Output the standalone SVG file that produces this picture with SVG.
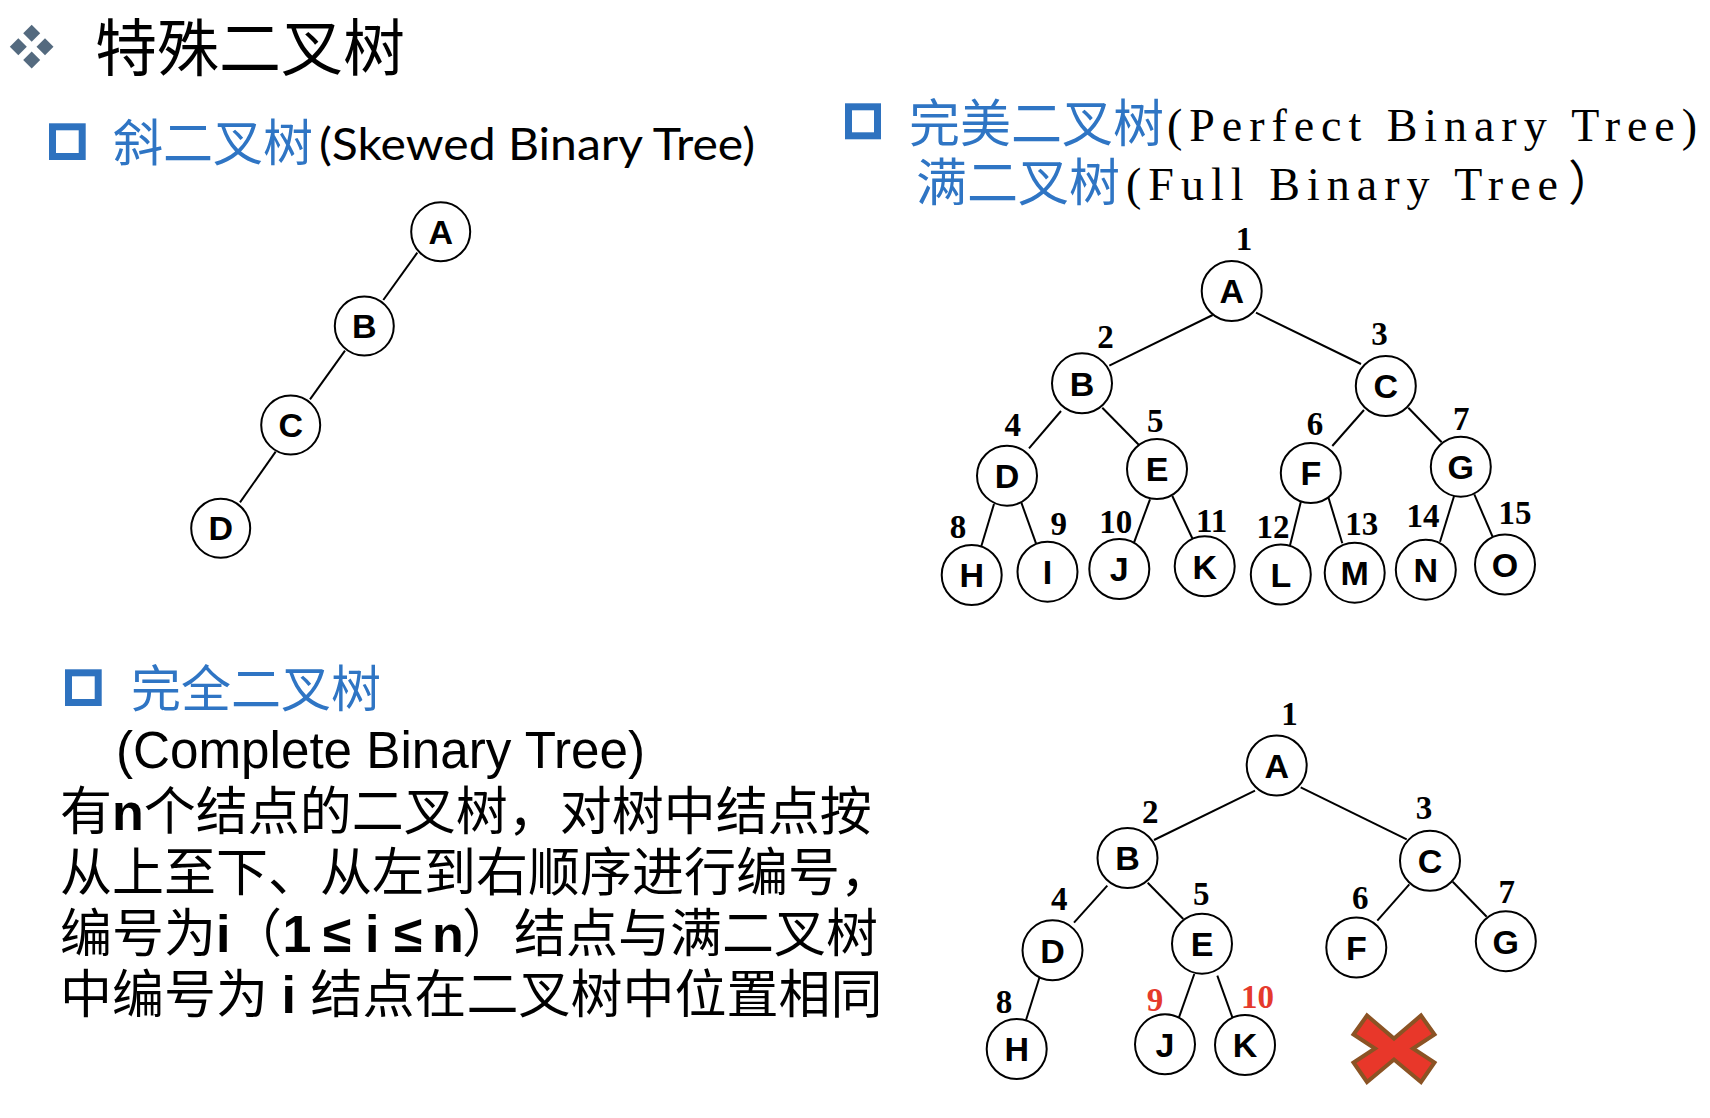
<svg xmlns="http://www.w3.org/2000/svg" width="1710" height="1118" viewBox="0 0 1710 1118">
<style>
.cjk{font-family:"Noto Sans CJK SC","Noto Sans",sans-serif}
.blue{fill:#2f75c4}
.node circle{fill:#fff;stroke:#000;stroke-width:2}
.node text{font-family:"Liberation Sans",Arial,sans-serif;font-weight:bold;font-size:34px;text-anchor:middle}
.num{font-family:"Liberation Serif","Times New Roman",serif;font-weight:bold;font-size:33px;text-anchor:middle}
.red{fill:#e53a2c}
.edges line{stroke:#000;stroke-width:2}
.bullet{fill:none;stroke:#2e72bf;stroke-width:7}
.b{font-family:"Liberation Sans",Arial,sans-serif;font-weight:bold}
</style>
<rect width="1710" height="1118" fill="#fff"/>

<!-- title -->
<g id="title">
<g fill="#546a7f">
<polygon points="31.7,24.8 40.2,33.3 31.7,41.8 23.2,33.3"/>
<polygon points="18.3,38.2 26.8,46.7 18.3,55.2 9.8,46.7"/>
<polygon points="45,38.2 53.5,46.7 45,55.2 36.5,46.7"/>
<polygon points="31.7,51.5 40.2,60 31.7,68.5 23.2,60"/>
</g>
<text class="cjk" x="95" y="71" font-size="62">特殊二叉树</text>
</g>

<!-- headers -->
<g id="header-skewed">
<rect class="bullet" x="52.5" y="126.8" width="29.7" height="29.7"/>
<text class="cjk blue" x="113" y="161" font-size="50">斜二叉树</text>
<text x="319" y="160" font-family="Lato,'Open Sans',sans-serif" font-size="44" textLength="436" lengthAdjust="spacingAndGlyphs">(Skewed Binary Tree)</text>
</g>
<g id="header-perfect">
<rect class="bullet" x="848.5" y="106.8" width="29" height="29"/>
<text class="cjk blue" x="909" y="142" font-size="51">完美二叉树</text>
<text x="1167" y="141" font-family="'Liberation Serif',serif" font-size="46" textLength="530" lengthAdjust="spacing">(Perfect Binary Tree)</text>
<text class="cjk blue" x="916" y="201" font-size="51">满二叉树</text>
<text x="1126" y="200" font-family="'Liberation Serif',serif" font-size="46" textLength="432" lengthAdjust="spacing">(Full Binary Tree</text>
<text class="cjk" x="1568" y="200" font-size="48">）</text>
</g>
<g id="header-complete">
<rect class="bullet" x="68.5" y="672.8" width="29.7" height="29.7"/>
<text class="cjk blue" x="131" y="707" font-size="50">完全二叉树</text>
<text x="116" y="767.7" font-family="'Liberation Sans',Arial,sans-serif" font-size="51" textLength="529" lengthAdjust="spacingAndGlyphs">(Complete Binary Tree)</text>
</g>

<!-- body text -->
<g id="body" font-size="52">
<text class="cjk" x="60" y="830">有<tspan class="b">n</tspan>个结点的二叉树，对树中结点按</text>
<text class="cjk" x="60" y="891">从上至下、从左到右顺序进行编号，</text>
<text y="952">
<tspan class="cjk" x="60">编号为</tspan><tspan class="b" x="216">i</tspan><tspan class="cjk" x="230">（</tspan><tspan class="b" x="282.5">1</tspan><tspan class="b" x="323">≤</tspan><tspan class="b" x="365">i</tspan><tspan class="b" x="394">≤</tspan><tspan class="b" x="432">n</tspan><tspan class="cjk" x="462">）结点与满二叉树</tspan>
</text>
<text y="1013">
<tspan class="cjk" x="60">中编号为</tspan><tspan class="b" x="281.5">i</tspan><tspan class="cjk" x="310.5">结点在二叉树中位置相同</tspan>
</text>
</g>

<!-- connectors -->
<g class="edges" id="connectors">
<line x1="417.3" y1="252.7" x2="383.3" y2="300"/>
<line x1="345" y1="350.7" x2="310" y2="399.3"/>
<line x1="275.7" y1="451.7" x2="240" y2="502.3"/>

<line x1="1212.7" y1="315" x2="1109.3" y2="365.7"/>
<line x1="1256" y1="312.7" x2="1361" y2="364"/>
<line x1="1061" y1="411" x2="1029" y2="448.3"/>
<line x1="1102.3" y1="407.7" x2="1139" y2="445"/>
<line x1="1364" y1="410" x2="1332.3" y2="446"/>
<line x1="1408.3" y1="407.7" x2="1441.7" y2="442.3"/>
<line x1="994" y1="504" x2="980.7" y2="548.3"/>
<line x1="1021" y1="501.7" x2="1036" y2="543.3"/>
<line x1="1150" y1="499.3" x2="1134" y2="542.7"/>
<line x1="1172.3" y1="496" x2="1192.3" y2="538.3"/>
<line x1="1303.3" y1="491.7" x2="1289.3" y2="548.3"/>
<line x1="1326.7" y1="491.7" x2="1342.3" y2="543.3"/>
<line x1="1455.7" y1="490.7" x2="1440" y2="541.7"/>
<line x1="1474.3" y1="494.3" x2="1493.3" y2="538.3"/>

<line x1="1255" y1="790.7" x2="1154" y2="840"/>
<line x1="1300.7" y1="787.3" x2="1406.7" y2="839.3"/>
<line x1="1107.3" y1="885.7" x2="1074" y2="922.7"/>
<line x1="1147.7" y1="882.7" x2="1183.3" y2="919"/>
<line x1="1409.3" y1="884.3" x2="1377.3" y2="920.7"/>
<line x1="1452.7" y1="881.7" x2="1486.7" y2="916.7"/>
<line x1="1040" y1="975.7" x2="1025" y2="1023.3"/>
<line x1="1194.3" y1="974" x2="1179" y2="1017.3"/>
<line x1="1217.3" y1="975.7" x2="1232.7" y2="1018.3"/>
</g>

<!-- skewed tree -->
<g class="node" id="s-A"><circle cx="440.7" cy="231.7" r="29.5"/><text x="440.7" y="243.5" font-size="33">A</text></g>
<g class="node" id="s-B"><circle cx="364.3" cy="326" r="29.5"/><text x="364.3" y="337.8" font-size="33">B</text></g>
<g class="node" id="s-C"><circle cx="290.7" cy="425" r="29.5"/><text x="290.7" y="436.8" font-size="33">C</text></g>
<g class="node" id="s-D"><circle cx="220.7" cy="528.3" r="29.5"/><text x="220.7" y="540.1" font-size="33">D</text></g>

<!-- perfect tree -->
<g class="node" id="p-A"><circle cx="1231.7" cy="291" r="30"/><text x="1231.7" y="303.3">A</text></g>
<g class="node" id="p-B"><circle cx="1082" cy="383.3" r="30"/><text x="1082" y="395.6">B</text></g>
<g class="node" id="p-C"><circle cx="1385.8" cy="386" r="30"/><text x="1385.8" y="398.3">C</text></g>
<g class="node" id="p-D"><circle cx="1007" cy="475.7" r="30"/><text x="1007" y="488">D</text></g>
<g class="node" id="p-E"><circle cx="1157" cy="469" r="30"/><text x="1157" y="481.3">E</text></g>
<g class="node" id="p-F"><circle cx="1310.8" cy="473" r="30"/><text x="1310.8" y="485.3">F</text></g>
<g class="node" id="p-G"><circle cx="1460.8" cy="466.7" r="30"/><text x="1460.8" y="479">G</text></g>
<g class="node" id="p-H"><circle cx="971.7" cy="575" r="30"/><text x="971.7" y="587.3">H</text></g>
<g class="node" id="p-I"><circle cx="1047.5" cy="571.7" r="30"/><text x="1047.5" y="584">I</text></g>
<g class="node" id="p-J"><circle cx="1119.3" cy="569" r="30"/><text x="1119.3" y="581.3">J</text></g>
<g class="node" id="p-K"><circle cx="1204.7" cy="566.3" r="30"/><text x="1204.7" y="578.6">K</text></g>
<g class="node" id="p-L"><circle cx="1280.8" cy="574.5" r="30"/><text x="1280.8" y="586.8">L</text></g>
<g class="node" id="p-M"><circle cx="1354.7" cy="572.7" r="30"/><text x="1354.7" y="585">M</text></g>
<g class="node" id="p-N"><circle cx="1425.8" cy="569.7" r="30"/><text x="1425.8" y="582">N</text></g>
<g class="node" id="p-O"><circle cx="1505" cy="564.5" r="30"/><text x="1505" y="576.8">O</text></g>

<g id="p-nums">
<text class="num" x="1244" y="250">1</text>
<text class="num" x="1105.5" y="348">2</text>
<text class="num" x="1379.5" y="345">3</text>
<text class="num" x="1012.8" y="436">4</text>
<text class="num" x="1155.3" y="431.7">5</text>
<text class="num" x="1315" y="435">6</text>
<text class="num" x="1461.3" y="430">7</text>
<text class="num" x="958" y="538">8</text>
<text class="num" x="1058.7" y="535">9</text>
<text class="num" x="1115.8" y="533">10</text>
<text class="num" x="1211.7" y="531.7">11</text>
<text class="num" x="1273" y="538">12</text>
<text class="num" x="1361.7" y="535">13</text>
<text class="num" x="1423" y="527">14</text>
<text class="num" x="1515" y="524">15</text>
</g>

<!-- complete tree -->
<g class="node" id="c-A"><circle cx="1276.7" cy="765.5" r="30"/><text x="1276.7" y="777.8">A</text></g>
<g class="node" id="c-B"><circle cx="1127.5" cy="858" r="30"/><text x="1127.5" y="870.3">B</text></g>
<g class="node" id="c-C"><circle cx="1430" cy="860.8" r="30"/><text x="1430" y="873.1">C</text></g>
<g class="node" id="c-D"><circle cx="1052.5" cy="950.3" r="30"/><text x="1052.5" y="962.6">D</text></g>
<g class="node" id="c-E"><circle cx="1202" cy="943.7" r="30"/><text x="1202" y="956">E</text></g>
<g class="node" id="c-F"><circle cx="1356.3" cy="947.5" r="30"/><text x="1356.3" y="959.8">F</text></g>
<g class="node" id="c-G"><circle cx="1505.8" cy="941.2" r="30"/><text x="1505.8" y="953.5">G</text></g>
<g class="node" id="c-H"><circle cx="1016.7" cy="1049" r="30"/><text x="1016.7" y="1061.3">H</text></g>
<g class="node" id="c-J"><circle cx="1165" cy="1044.3" r="30"/><text x="1165" y="1056.6">J</text></g>
<g class="node" id="c-K"><circle cx="1245" cy="1045" r="30"/><text x="1245" y="1057.3">K</text></g>

<g id="c-nums">
<text class="num" x="1289.5" y="725">1</text>
<text class="num" x="1150.3" y="822.7">2</text>
<text class="num" x="1424" y="819.3">3</text>
<text class="num" x="1059.3" y="910">4</text>
<text class="num" x="1201.3" y="905">5</text>
<text class="num" x="1360.3" y="909.3">6</text>
<text class="num" x="1506.7" y="902.7">7</text>
<text class="num" x="1004" y="1013.3">8</text>
<text class="num red" x="1155" y="1010.7">9</text>
<text class="num red" x="1257.5" y="1008.3">10</text>
</g>

<g id="cross">
<polygon points="1353.5,1034.5 1367,1015.5 1394,1038.5 1421,1015.5 1434.5,1034.5 1413,1048.5 1434.5,1062.5 1421,1082 1394,1059.5 1367,1082 1353.5,1062.5 1375,1048.5" fill="#e8372a" stroke="#8b5324" stroke-width="4" stroke-linejoin="miter"/>
</g>
</svg>
